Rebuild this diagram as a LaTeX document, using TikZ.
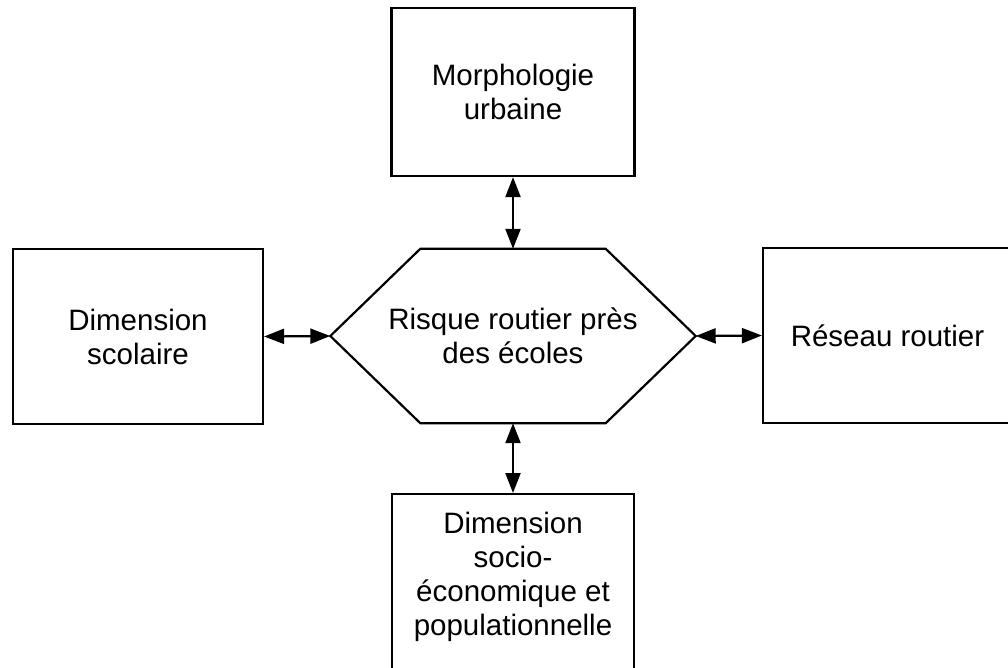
\documentclass[tikz,border=0pt]{standalone}
\usepackage{fontspec}
\setmainfont{Liberation Sans}
\usepackage{tikz}
\usetikzlibrary{arrows.meta,positioning}

\begin{document}
\begin{tikzpicture}[x=1pt,y=-1pt,
      boite/.style={draw=black,line width=2.2pt,fill=white,align=center,inner sep=0pt,
        font=\fontsize{29.5}{34}\selectfont},
      hexa/.style={minimum width=365pt,minimum height=174pt,inner sep=0pt,
        align=center,font=\fontsize{29.5}{34}\selectfont},
      lien/.style={{Triangle[length=20pt,width=15pt]}-{Triangle[length=20pt,width=15pt]},line width=2.2pt}]
      \useasboundingbox (0,0) rectangle (1008,667);
      \node[hexa] (risque) at (513,336) {Risque routier près\\des écoles};
      \draw[line width=2.2pt,line join=miter] (risque.west) -- ([xshift=90pt]risque.north west)
        -- ([xshift=-90pt]risque.north east) -- (risque.east)
        -- ([xshift=-90pt]risque.south east) -- ([xshift=90pt]risque.south west) -- cycle;
      \node[boite,minimum width=243pt,minimum height=168pt] (morpho) at (513,92) {Morphologie\\urbaine};
      \node[boite,minimum width=250pt,minimum height=175pt] (scol) at (138,336.5) {Dimension\\scolaire};
      \node[boite,minimum width=249pt,minimum height=175pt] (reseau) at (887.5,335.5) {Réseau routier};
      \node[boite,minimum width=242pt,minimum height=190pt,anchor=north] (socio) at (513,493) {};
      \node[align=center,inner sep=0pt,font=\fontsize{29.5}{34}\selectfont] (sociotxt) at (513,577)
        {Dimension\\socio-\\économique et\\populationnelle};
      \draw[lien] (morpho.south) -- (risque.north);
      \draw[lien] (scol.east) -- (risque.west);
      \draw[lien] (risque.east) -- (reseau.west);
      \draw[lien] (risque.south) -- (socio.north);
    \end{tikzpicture}
\end{document}
